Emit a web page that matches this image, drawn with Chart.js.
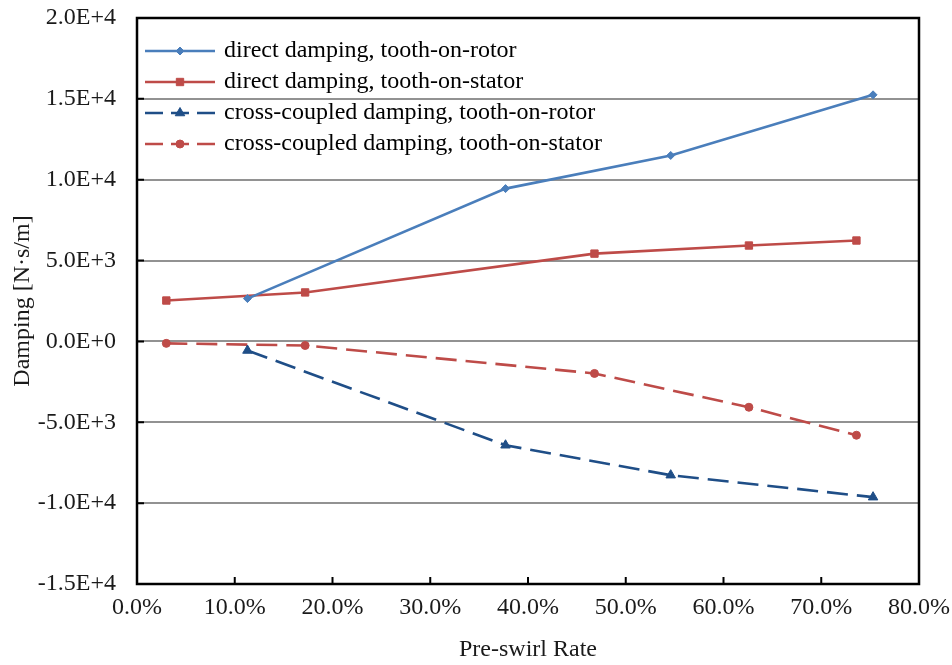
<!DOCTYPE html>
<html>
<head>
<meta charset="utf-8">
<script src="https://cdn.jsdelivr.net/npm/chart.js@4.4.1/dist/chart.umd.min.js"></script>
<style>
  html, body { margin: 0; padding: 0; background: #ffffff; }
  #wrap { width: 952px; height: 665px; }
</style>
</head>
<body>
<div id="wrap"><canvas id="chart" width="952" height="665"></canvas></div>
<script>
// Pre-swirl rate (%) at which each configuration was evaluated
const preSwirlRotor = [11.3, 37.7, 54.6, 75.3];
const preSwirlStator = [3.0, 17.2, 46.8, 62.6, 73.6];

// Damping coefficients [N·s/m]
const directRotor = [2650, 9450, 11500, 15250];
const directStator = [2530, 3030, 5430, 5930, 6240];
const crossRotor = [-560, -6420, -8270, -9630];
const crossStator = [-120, -250, -1980, -4070, -5800];

const seriesNames = [
  'direct damping, tooth-on-rotor',
  'direct damping, tooth-on-stator',
  'cross-coupled damping, tooth-on-rotor',
  'cross-coupled damping, tooth-on-stator'
];

// Axis ticks and their printed labels
const xTickValues = [0, 10, 20, 30, 40, 50, 60, 70, 80];
const xTickLabels = ['0.0%', '10.0%', '20.0%', '30.0%', '40.0%', '50.0%', '60.0%', '70.0%', '80.0%'];
const yTickValues = [20000, 15000, 10000, 5000, 0, -5000, -10000, -15000];
const yTickLabels = ['2.0E+4', '1.5E+4', '1.0E+4', '5.0E+3', '0.0E+0', '-5.0E+3', '-1.0E+4', '-1.5E+4'];

const FONT = '"Liberation Serif", "Times New Roman", serif';
const TEXT = '#1a1a1a';
const FS = 24;
const C_BLUE = '#4A7EBB';
const C_RED = '#BE4B48';
const C_NAVY = '#1F4E87';
const DASH = [21, 9];

Chart.defaults.font.family = FONT;
Chart.defaults.color = TEXT;

function pairs(xs, ys) {
  return xs.map((x, i) => ({ x: x, y: ys[i] }));
}

// Small line-plus-marker swatch used as the legend symbol
function swatch(color, dashed, style, radius) {
  const cv = document.createElement('canvas');
  cv.width = 70; cv.height = 20;
  const g = cv.getContext('2d');
  g.strokeStyle = color;
  g.lineWidth = 2.5;
  g.setLineDash(dashed ? [18, 8] : []);
  g.beginPath();
  g.moveTo(0, 10); g.lineTo(70, 10);
  g.stroke();
  g.setLineDash([]);
  g.fillStyle = color;
  g.lineWidth = 1;
  Chart.helpers.drawPoint(g, { pointStyle: style, radius: radius, rotation: 0, borderWidth: 1 }, 35, 10);
  return cv;
}

const styles = [
  { color: C_BLUE, dashed: false, point: 'rectRot', r: 4 },
  { color: C_RED, dashed: false, point: 'rect', r: 5.2 },
  { color: C_NAVY, dashed: true, point: 'triangle', r: 5.5 },
  { color: C_RED, dashed: true, point: 'circle', r: 4 }
];
const seriesData = [
  pairs(preSwirlRotor, directRotor),
  pairs(preSwirlStator, directStator),
  pairs(preSwirlRotor, crossRotor),
  pairs(preSwirlStator, crossStator)
];

const datasets = seriesData.map((d, i) => ({
  label: seriesNames[i],
  data: d,
  borderColor: styles[i].color,
  backgroundColor: styles[i].color,
  borderWidth: 2.6,
  borderDash: styles[i].dashed ? DASH : [],
  pointStyle: styles[i].point,
  pointRadius: styles[i].r,
  pointHoverRadius: styles[i].r,
  pointBorderWidth: 1,
  pointBackgroundColor: styles[i].color,
  pointBorderColor: styles[i].color,
  tension: 0,
  fill: false,
  clip: false
}));

// Plot frame plus the short inward tick marks
const framePlugin = {
  id: 'frame',
  beforeDatasetsDraw(chart) {
    const { ctx, chartArea: a, scales } = chart;
    const x = scales.x, y = scales.y;
    ctx.save();
    ctx.strokeStyle = '#000000';
    ctx.lineWidth = 2;
    ctx.beginPath();
    yTickValues.forEach(v => {
      const py = y.getPixelForValue(v);
      ctx.moveTo(a.left, py); ctx.lineTo(a.left + 7, py);
    });
    xTickValues.forEach(v => {
      const px = x.getPixelForValue(v);
      ctx.moveTo(px, a.bottom); ctx.lineTo(px, a.bottom - 7);
    });
    ctx.stroke();
    ctx.lineWidth = 2.5;
    ctx.strokeRect(a.left, a.top, a.right - a.left, a.bottom - a.top);
    ctx.restore();
  }
};

// Place the legend in the upper-left corner of the plot
const legendPlacement = {
  id: 'legendPlacement',
  afterLayout(chart) {
    const lg = chart.legend;
    if (!lg) return;
    const a = chart.chartArea;
    lg.left = a.left + 4;
    lg.top = a.top + 14;
  }
};

new Chart(document.getElementById('chart'), {
  type: 'line',
  data: { datasets: datasets },
  options: {
    responsive: false,
    devicePixelRatio: 1,
    animation: false,
    layout: { padding: { left: 0, right: 33, top: 18, bottom: 0 } },
    plugins: {
      tooltip: { enabled: false },
      legend: {
        position: 'chartArea',
        align: 'start',
        labels: {
          usePointStyle: true,
          pointStyleWidth: 64,
          padding: 7,
          color: TEXT,
          font: { size: FS, family: FONT },
          generateLabels(chart) {
            return chart.data.datasets.map((ds, i) => ({
              text: ds.label,
              pointStyle: swatch(styles[i].color, styles[i].dashed, styles[i].point, styles[i].r),
              fillStyle: styles[i].color,
              strokeStyle: styles[i].color,
              lineWidth: 0,
              hidden: false,
              datasetIndex: i
            }));
          }
        }
      }
    },
    scales: {
      x: {
        type: 'linear',
        min: 0,
        max: 80,
        afterBuildTicks(scale) { scale.ticks = xTickValues.map(v => ({ value: v })); },
        afterFit(scale) {
          scale.height = 81;
          scale.paddingLeft = 0;
          scale.paddingRight = 0;
        },
        ticks: {
          padding: 9,
          color: TEXT,
          font: { size: FS, family: FONT },
          maxRotation: 0,
          callback: (v) => xTickLabels[xTickValues.indexOf(v)]
        },
        grid: { display: false, drawTicks: false },
        border: { display: false },
        title: {
          display: true,
          text: 'Pre-swirl Rate',
          color: TEXT,
          font: { size: FS, family: FONT },
          padding: { top: 0, bottom: 1 }
        }
      },
      y: {
        type: 'linear',
        min: -15000,
        max: 20000,
        afterBuildTicks(scale) { scale.ticks = yTickValues.map(v => ({ value: v })); },
        afterFit(scale) {
          scale.width = 137;
          scale.paddingTop = 0;
          scale.paddingBottom = 0;
        },
        ticks: {
          padding: 21,
          color: TEXT,
          font: { size: FS, family: FONT },
          callback: (v) => yTickLabels[yTickValues.indexOf(v)]
        },
        grid: { color: '#929292', lineWidth: 2, drawTicks: false },
        border: { display: false },
        title: {
          display: true,
          text: 'Damping [N·s/m]',
          color: TEXT,
          font: { size: FS, family: FONT },
          padding: { top: 8, bottom: 0 }
        }
      }
    }
  },
  plugins: [framePlugin, legendPlacement]
});
</script>
</body>
</html>
